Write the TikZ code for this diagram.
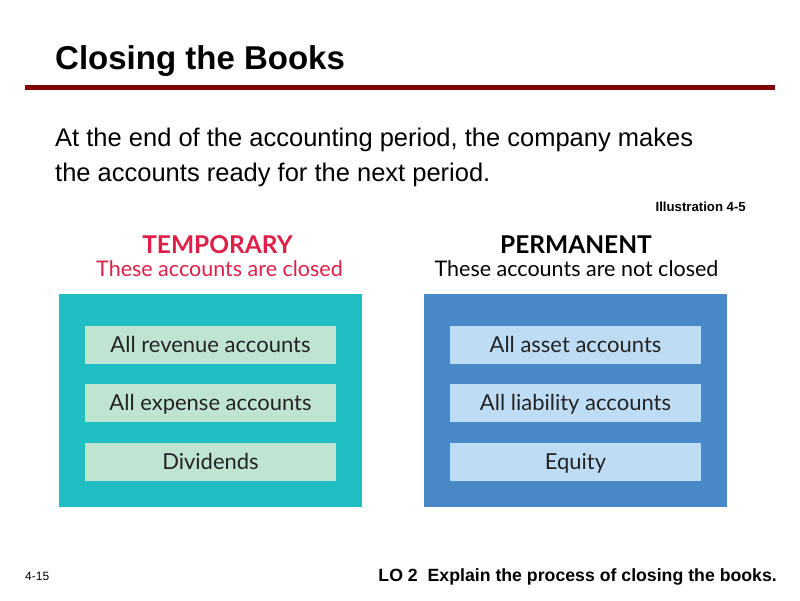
\documentclass[tikz,border=0pt]{standalone}
\usepackage{fontspec}
\setmainfont{Liberation Sans}
\newfontfamily\gillfont{Lato}
\usepackage{xcolor}
\usetikzlibrary{positioning}
\definecolor{cbrule}{RGB}{128,0,0}
\definecolor{cbteal}{RGB}{32,189,194}
\definecolor{cbmint}{RGB}{191,229,210}
\definecolor{cbblue}{RGB}{74,137,199}
\definecolor{cbsky}{RGB}{190,221,245}
\definecolor{cbcrimson}{RGB}{222,32,72}
\definecolor{cbink}{RGB}{35,35,35}
\tikzset{
  panel/.style={minimum width=303pt, minimum height=213pt, inner sep=0pt},
  tpanel/.style={panel, fill=cbteal},
  ppanel/.style={panel, fill=cbblue},
  acct/.style={minimum width=251pt, minimum height=38pt, inner sep=0pt,
               text height=16pt, text depth=1pt,
               font=\gillfont\fontsize{22}{22}\selectfont, text=cbink},
  tacct/.style={acct, fill=cbmint},
  pacct/.style={acct, fill=cbsky},
  head/.style={anchor=base, font=\gillfont\bfseries\fontsize{24.5}{24.5}\selectfont},
  sub/.style={anchor=base, font=\gillfont\fontsize{21.5}{21.5}\selectfont},
}

\begin{document}
\begin{tikzpicture}[x=1pt, y=-1pt, node distance=20pt]
\useasboundingbox[fill=white] (0,0) rectangle (800,600);
% title and rule
\node[anchor=base west, inner sep=0pt, font=\bfseries\fontsize{33}{33}\selectfont] (title) at (55,69) {Closing the Books};
\fill[cbrule] (25,85) rectangle (775,90);
\node[anchor=base west, inner sep=0pt, align=left,
      font=\fontsize{25.5}{35}\selectfont] (intro) at (55,181)
  {At the end of the accounting period, the company makes\\the accounts ready for the next period.};
\node[anchor=base east, inner sep=0pt, font=\bfseries\fontsize{13.2}{13.2}\selectfont] (illus) at (746,211) {Illustration 4-5};
% temporary accounts
\node[head, text=cbcrimson] (temphead) at (217.5,253) {TEMPORARY};
\node[sub, text=cbcrimson] (tempsub) at (219.5,276.5) {These accounts are closed};
\node[tpanel] (temp) at (210.5,400.5) {};
\node[tacct, below=32pt of temp.north, anchor=north] (rev) {All revenue accounts};
\node[tacct, below=of rev] (exp) {All expense accounts};
\node[tacct, below=of exp] (div) {Dividends};
% permanent accounts
\node[head, text=black] (permhead) at (576,253) {PERMANENT};
\node[sub, text=black] (permsub) at (576.5,276.5) {These accounts are not closed};
\node[ppanel] (perm) at (575.5,400.5) {};
\node[pacct, below=32pt of perm.north, anchor=north] (asset) {All asset accounts};
\node[pacct, below=of asset] (liab) {All liability accounts};
\node[pacct, below=of liab] (eq) {Equity};
% footer
\node[anchor=base west, inner sep=0pt, font=\fontsize{12}{12}\selectfont] (page) at (25,580) {4-15};
\node[anchor=base east, inner sep=0pt, font=\bfseries\fontsize{17.7}{17.7}\selectfont] (lo) at (777,581) {LO 2\ \ Explain the process of closing the books.};
\end{tikzpicture}
\end{document}
